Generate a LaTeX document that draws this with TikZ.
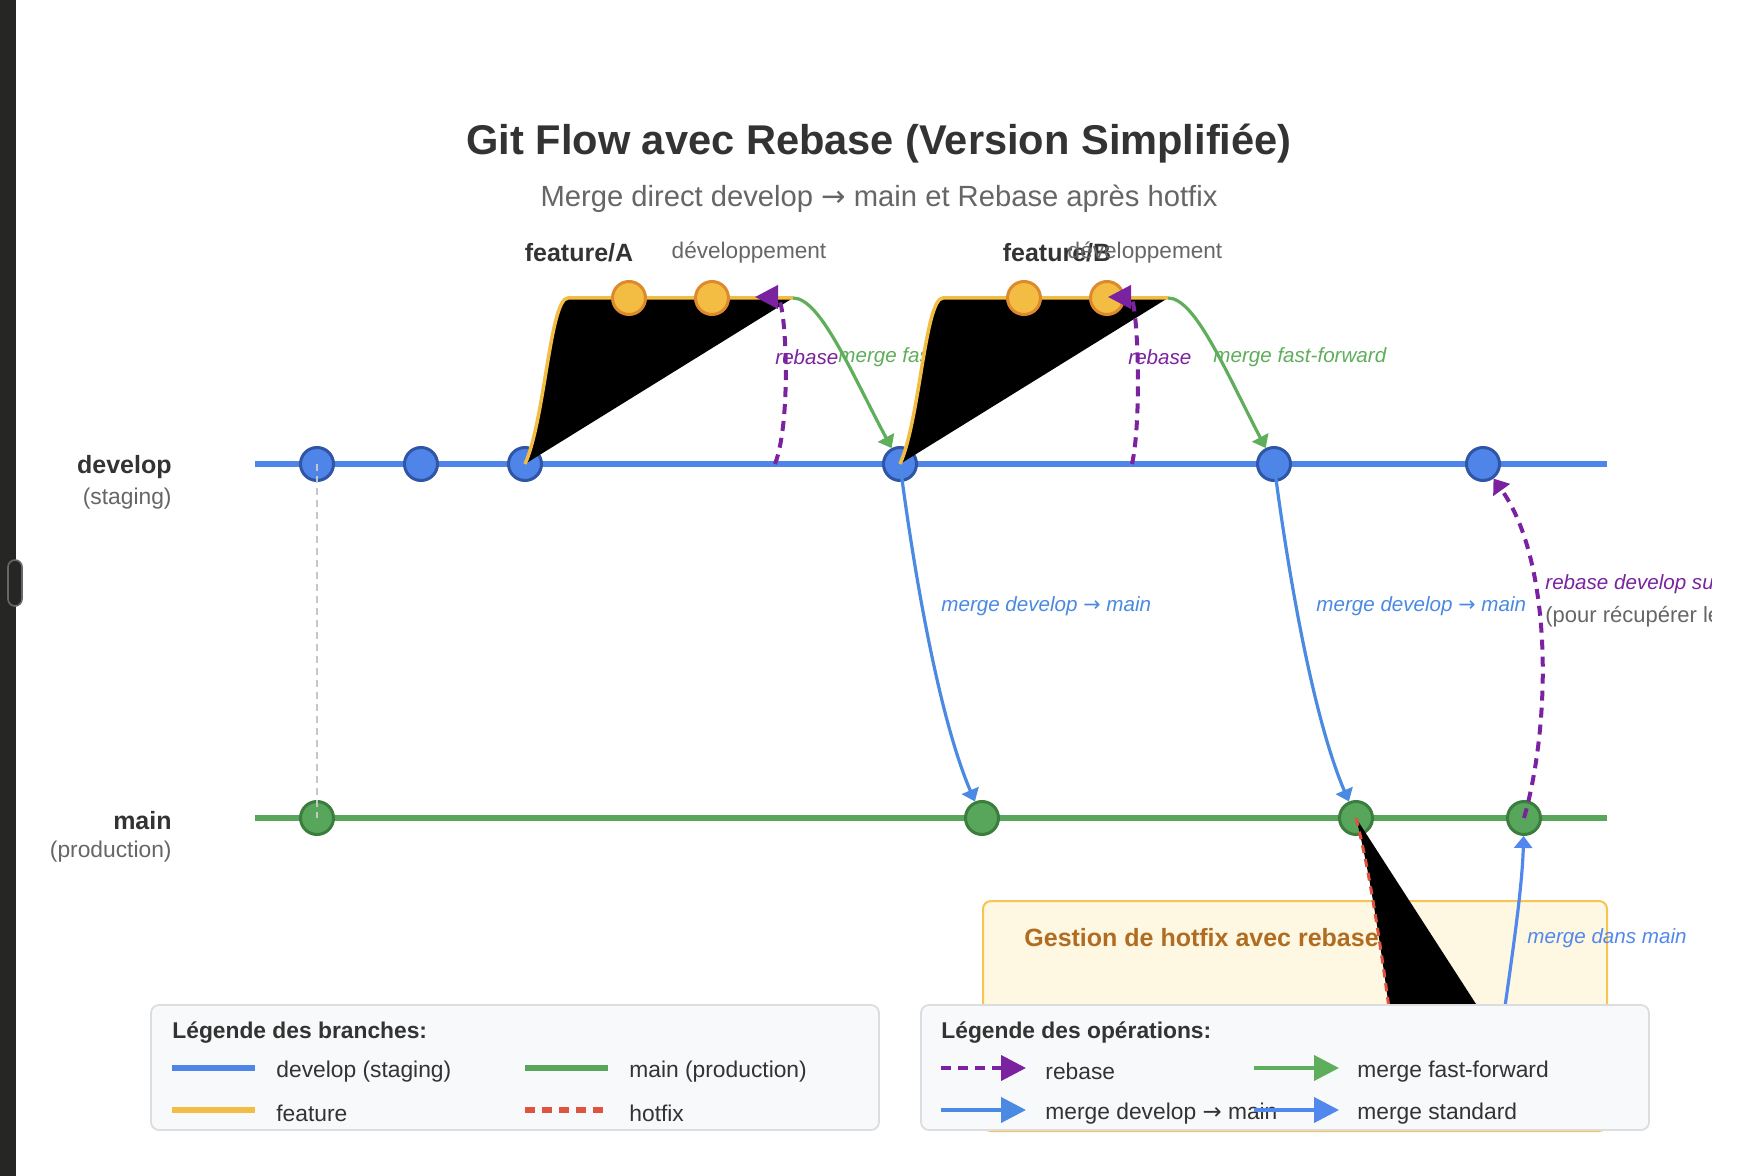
\documentclass[tikz,border=0pt]{standalone}
\usepackage{fontspec}
\setmainfont{Liberation Sans}
\newfontfamily\fleche{DejaVu Sans}
\newcommand{\versmain}{{\fleche →}}
\usetikzlibrary{arrows.meta}
\definecolor{encre}{HTML}{333333}
\definecolor{gris}{HTML}{666666}
\definecolor{develop}{HTML}{4F84E8}
\definecolor{developtrait}{HTML}{2F56A6}
\definecolor{prod}{HTML}{58A65B}
\definecolor{prodtrait}{HTML}{3B7D3D}
\definecolor{feature}{HTML}{F2BD42}
\definecolor{featuretrait}{HTML}{DE8A2C}
\definecolor{pourpre}{HTML}{7B22A0}
\definecolor{avance}{HTML}{5FAE5B}
\definecolor{fusion}{HTML}{4A8AE2}
\definecolor{fusionstd}{HTML}{5288EE}
\definecolor{correctif}{HTML}{E0533F}
\definecolor{fondleg}{HTML}{F8F9FA}
\definecolor{bordleg}{HTML}{DCDDE0}
\definecolor{fondhf}{HTML}{FEF7E1}
\definecolor{bordhf}{HTML}{F5C453}
\definecolor{titrehf}{HTML}{B06D22}
\definecolor{barre}{HTML}{262624}

\begin{document}
\begin{tikzpicture}[x=0.5pt,y=-0.5pt,
   commit/.style={circle,minimum size=16.5pt,inner sep=0pt,line width=1.5pt},
   cdev/.style={commit,fill=develop,draw=developtrait},
   cprod/.style={commit,fill=prod,draw=prodtrait},
   cfeat/.style={commit,fill=feature,draw=featuretrait},
   texte/.style={inner sep=0pt,yshift=-1.8pt},
   branche/.style={texte,anchor=east,text=encre,font=\bfseries\fontsize{12.5}{15}\selectfont},
   sousbranche/.style={texte,anchor=east,text=gris,font=\fontsize{11.4}{14}\selectfont},
   nomfeat/.style={texte,text=encre,font=\bfseries\fontsize{12.5}{15}\selectfont},
   devlabel/.style={texte,text=gris,font=\fontsize{11.3}{14}\selectfont},
   op/.style={texte,anchor=west,font=\itshape\fontsize{10.3}{12}\selectfont},
   rebase/.style={pourpre,line width=2pt,dash pattern=on 5pt off 3.5pt,-{Triangle[length=11.5pt,width=11.5pt]}},
   ff/.style={avance,line width=1.6pt,-{Triangle[length=6pt,width=9pt]}},
   fusiondm/.style={fusion,line width=1.6pt,-{Triangle[length=6pt,width=9pt]}},
   legtitre/.style={texte,anchor=west,text=encre,font=\bfseries\fontsize{11.4}{14}\selectfont},
   legtexte/.style={texte,anchor=west,text=encre,font=\fontsize{11.4}{14}\selectfont},
   cadre/.style={fill=fondleg,draw=bordleg,line width=0.9pt,rounded corners=4pt}]

  \useasboundingbox (0,0) rectangle (1740,1176);
  \fill[white] (0,0) rectangle (1740,1176);

  % barre de gauche
  \fill[barre] (0,0) rectangle (15.5,1176);
  \draw[fill=barre,draw=black!60,line width=0.8pt,rounded corners=3.5pt] (8,560) rectangle (22,606);

  % titres
  \node[texte,yshift=-0.6pt,text=encre,font=\bfseries\fontsize{20.8}{25}\selectfont] (titre) at (879,139)
    {Git Flow avec Rebase (Version Simplifiée)};
  \node[texte,text=gris,font=\fontsize{14.6}{18}\selectfont] (soustitre) at (879,195)
    {Merge direct develop \versmain{} main et Rebase après hotfix};

  % --- branches principales ---
  \draw[develop,line width=3pt] (255,464) -- (1607,464);
  \draw[prod,line width=3pt] (255,818) -- (1607,818);
  \node[branche]     (nom-dev)  at (172,463) {develop};
  \node[sousbranche] (sous-dev) at (172,495) {(staging)};
  \node[branche]     (nom-prod)  at (172,817) {main};
  \node[sousbranche] (sous-prod) at (172,848) {(production)};

  \foreach \x [count=\i] in {317,421,525,900,1274,1483}
    \node[cdev] (d\i) at (\x,464) {};
  \foreach \x [count=\i] in {317,982,1356,1524}
    \node[cprod] (m\i) at (\x,818) {};
  \draw[black!22,line width=1pt,dash pattern=on 3.5pt off 2.5pt] (d1.center) -- (m1.center);

  % --- feature/A ---
  \coordinate (fa-fin) at (793,298);
  \coordinate (rba) at (775,464);
  \coordinate (fa-reb) at (755,297);
  \fill[black] (d3.center) .. controls (545,420) and (550,298) .. (568,298) -- (fa-fin) -- cycle;
  \draw[feature,line width=1.75pt] (d3.center) .. controls (545,420) and (550,298) .. (568,298) -- (fa-fin);
  \node[cfeat] (fa1) at (629,298) {};
  \node[cfeat] (fa2) at (712,298) {};
  \node[nomfeat]  (nom-fa) at (579,249) {feature/A};
  \node[devlabel] (dev-fa) at (749,249) {développement};
  \draw[rebase] (rba) .. controls (792,420) and (786,297) .. (fa-reb);
  \draw[ff] (fa-fin) .. controls (820,298) and (850,370) .. (d4);
  \node[op,text=pourpre] (reb-a) at (775,354) {rebase};
  \node[op,text=avance]  (ff-a)  at (838,354) {merge fast-forward};

  % merge develop -> main (1)
  \draw[fusiondm] (d4.center) .. controls (915,580) and (940,720) .. (m2);
  \node[op,text=fusion] (dm-1) at (941,603) {merge develop \versmain{} main};

  % --- feature/B ---
  \coordinate (fb-fin) at (1168,298);
  \coordinate (rbb) at (1132,464);
  \coordinate (fb-reb) at (1108,297);
  \fill[black] (d4.center) .. controls (920,420) and (925,298) .. (943,298) -- (fb-fin) -- cycle;
  \draw[feature,line width=1.75pt] (d4.center) .. controls (920,420) and (925,298) .. (943,298) -- (fb-fin);
  \node[cfeat] (fb1) at (1024,298) {};
  \node[cfeat] (fb2) at (1107,298) {};
  \node[nomfeat]  (nom-fb) at (1057,249) {feature/B};
  \node[devlabel] (dev-fb) at (1145,249) {développement};
  \draw[rebase] (rbb) .. controls (1142,420) and (1138,297) .. (fb-reb);
  \draw[ff] (fb-fin) .. controls (1195,298) and (1225,370) .. (d5);
  \node[op,text=pourpre] (reb-b) at (1128,354) {rebase};
  \node[op,text=avance]  (ff-b)  at (1213,354) {merge fast-forward};

  % merge develop -> main (2)
  \draw[fusiondm] (d5.center) .. controls (1289,580) and (1314,720) .. (m3);
  \node[op,text=fusion] (dm-2) at (1316,603) {merge develop \versmain{} main};

  % rebase develop sur main
  \draw[rebase,-{Triangle[length=7pt,width=10pt]}] (m4.center) .. controls (1552,720) and (1552,560) .. (d6);
  \begin{scope}
    \clip (0,0) rectangle (1711,1176);
    \node[op,text=pourpre] (reb-dm) at (1545,581) {rebase develop sur main};
    \node[texte,anchor=west,text=gris,font=\fontsize{11}{14}\selectfont] (reb-note) at (1545,613)
      {(pour récupérer le hotfix)};
  \end{scope}

  % --- hotfix ---
  \draw[fill=fondhf,draw=bordhf,line width=1pt,rounded corners=4pt] (983,901) rectangle (1607,1131);
  \node[texte,anchor=west,text=titrehf,font=\bfseries\fontsize{12.5}{15}\selectfont] (titre-hf)
    at (1024,934) {Gestion de hotfix avec rebase};
  \coordinate (hf-bas) at (1398,1080);
  \coordinate (hf-fin) at (1525,1080);
  \coordinate (hf-c) at (1495,1080);
  \fill[black] (m3.center) .. controls (1372,880) and (1386,980) .. (hf-bas) -- (hf-fin) -- cycle;
  \draw[correctif,line width=1.5pt,dash pattern=on 4pt off 3pt]
    (m3.center) .. controls (1372,880) and (1386,980) .. (hf-bas) -- (hf-fin);
  \draw[fusionstd,line width=1.6pt,-{Triangle[length=6pt,width=9pt]}]
    (hf-c) .. controls (1505,1000) and (1522,900) .. (m4);
  \node[op,text=fusionstd] (dans-main) at (1527,935) {merge dans main};

  % --- legende des branches ---
  \draw[cadre] (151,1005) rectangle (879,1130);
  \node[legtitre] (leg-b) at (172,1029) {Légende des branches:};
  \draw[develop,line width=2.8pt] (172,1068) -- (255,1068);
  \node[legtexte] (leg-dev) at (276,1068) {develop (staging)};
  \draw[prod,line width=2.8pt] (525,1068) -- (608,1068);
  \node[legtexte] (leg-prod) at (629,1068) {main (production)};
  \draw[feature,line width=2.8pt] (172,1110) -- (255,1110);
  \node[legtexte] (leg-feat) at (276,1110) {feature};
  \draw[correctif,line width=2.8pt,dash pattern=on 5pt off 3.5pt] (525,1110) -- (608,1110);
  \node[legtexte] (leg-hf) at (629,1110) {hotfix};

  % --- legende des operations ---
  \draw[cadre] (921,1005) rectangle (1649,1130);
  \node[legtitre] (leg-o) at (941,1029) {Légende des opérations:};
  \draw[rebase,-{Triangle[length=12.5pt,width=12.5pt]}] (941,1068) -- (1026,1068);
  \node[legtexte] (leg-reb) at (1045,1068) {rebase};
  \draw[avance,line width=2pt,-{Triangle[length=12.5pt,width=12.5pt]}] (1254,1068) -- (1339,1068);
  \node[legtexte] (leg-ff) at (1357,1068) {merge fast-forward};
  \draw[fusion,line width=2pt,-{Triangle[length=12.5pt,width=12.5pt]}] (941,1110) -- (1026,1110);
  \node[legtexte] (leg-dm) at (1045,1110) {merge develop \versmain{} main};
  \draw[fusionstd,line width=2pt,-{Triangle[length=12.5pt,width=12.5pt]}] (1254,1110) -- (1339,1110);
  \node[legtexte] (leg-std) at (1357,1110) {merge standard};
\end{tikzpicture}
\end{document}
